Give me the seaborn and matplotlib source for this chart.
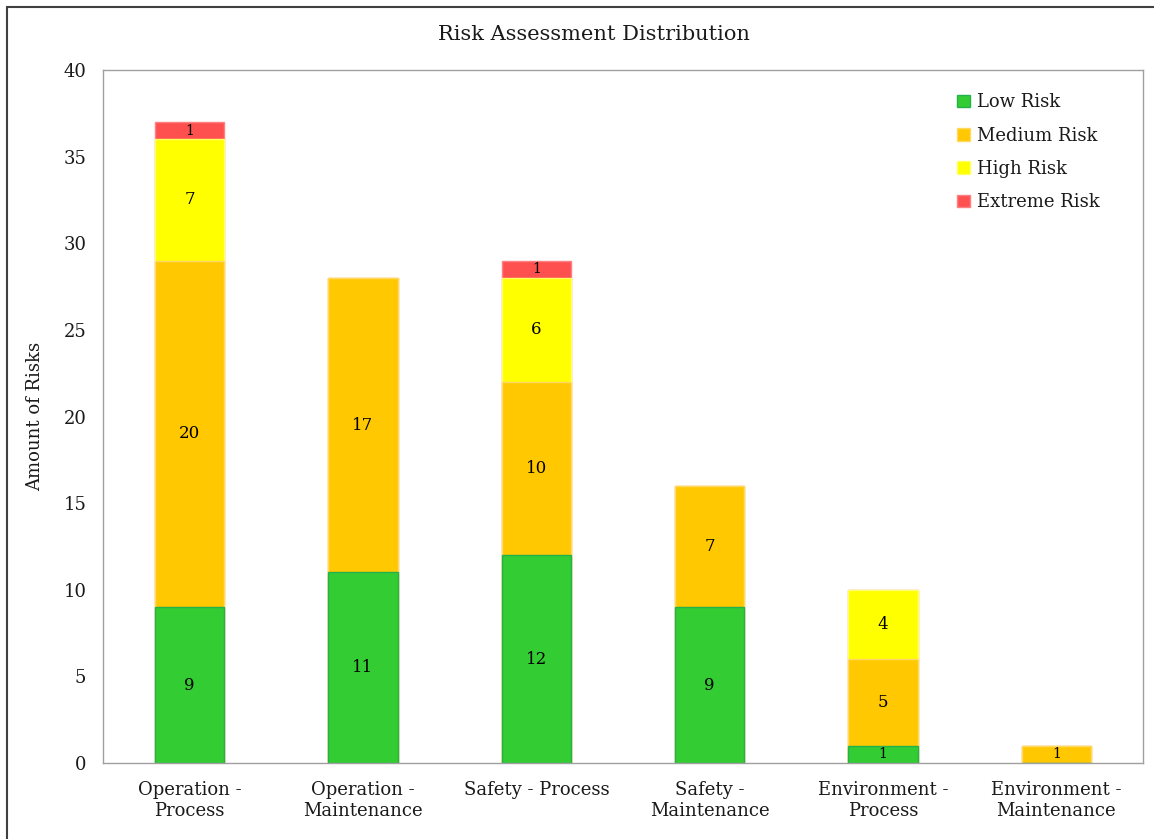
import numpy as np
import pandas as pd
import seaborn as sns
import matplotlib.pyplot as plt
from matplotlib.patches import Patch, Rectangle

categories = ['Operation -\nProcess', 'Operation -\nMaintenance', 'Safety - Process',
              'Safety -\nMaintenance', 'Environment -\nProcess', 'Environment -\nMaintenance']
low_risk = [9, 11, 12, 9, 1, 0]
medium_risk = [20, 17, 10, 7, 5, 1]
high_risk = [7, 0, 6, 0, 4, 0]
extreme_risk = [1, 0, 1, 0, 0, 0]

levels = ['Low Risk', 'Medium Risk', 'High Risk', 'Extreme Risk']
colors = ['#33CC33', '#FFC800', '#FFFF00', '#FF5050']
edges = ['#22B14C', '#FFD966', '#FFFF66', '#FF8080']

sns.set_theme(style='white')
plt.rcParams['font.family'] = ['DejaVu Serif']
plt.rcParams['text.color'] = '#1A1A1A'

df = pd.DataFrame({'category': categories, 'Low Risk': low_risk, 'Medium Risk': medium_risk,
                   'High Risk': high_risk, 'Extreme Risk': extreme_risk})
cum = df[levels].cumsum(axis=1)

fig = plt.figure(figsize=(11.54, 8.39), dpi=100)
ax = fig.add_axes([103 / 1154, 1 - 763 / 839, 1040 / 1154, 693 / 839])

# draw cumulative totals from top segment down so lower ones cover them
for lev, col, ec in reversed(list(zip(levels, colors, edges))):
    sns.barplot(x=df['category'], y=cum[lev], color=col, width=0.4,
                edgecolor=ec, linewidth=1, saturation=1, ax=ax)

for i in range(len(categories)):
    base = 0
    for lev in levels:
        v = df[lev][i]
        if v > 0:
            fs = 10 if v == 1 else 12
            ax.text(i, base + v / 2, str(v), ha='center', va='center', fontsize=fs, color='black')
        base += v

ax.set_ylim(0, 40)
ax.set_yticks(range(0, 41, 5))
ax.set_xlim(-0.5, len(categories) - 0.5)
ax.set_xlabel('')
ax.set_ylabel('Amount of Risks', fontsize=13, color='#1A1A1A', labelpad=14)
ax.tick_params(axis='both', length=0, labelsize=13, labelcolor='#1A1A1A')
ax.tick_params(axis='y', pad=12)
ax.tick_params(axis='x', pad=13)
for s in ax.spines.values():
    s.set_color('#A0A0A0')
    s.set_linewidth(1)

fig.suptitle('Risk Assessment Distribution', fontsize=15, x=594 / 1154, y=0.97)

handles = [Patch(facecolor=c, edgecolor=e) for c, e in zip(colors, edges)]
ax.legend(handles, levels, loc='upper right', frameon=False, fontsize=13,
          handlelength=0.7, handleheight=0.7, handletextpad=0.4, labelspacing=0.85,
          bbox_to_anchor=(0.974, 0.99))

fig.patches.append(Rectangle((7 / 1154, -0.1), 1.2, 1.1 - 7 / 839, transform=fig.transFigure,
                             fill=False, edgecolor='#404040', linewidth=1.5, clip_on=False))

fig.savefig('out.png', dpi=100)
